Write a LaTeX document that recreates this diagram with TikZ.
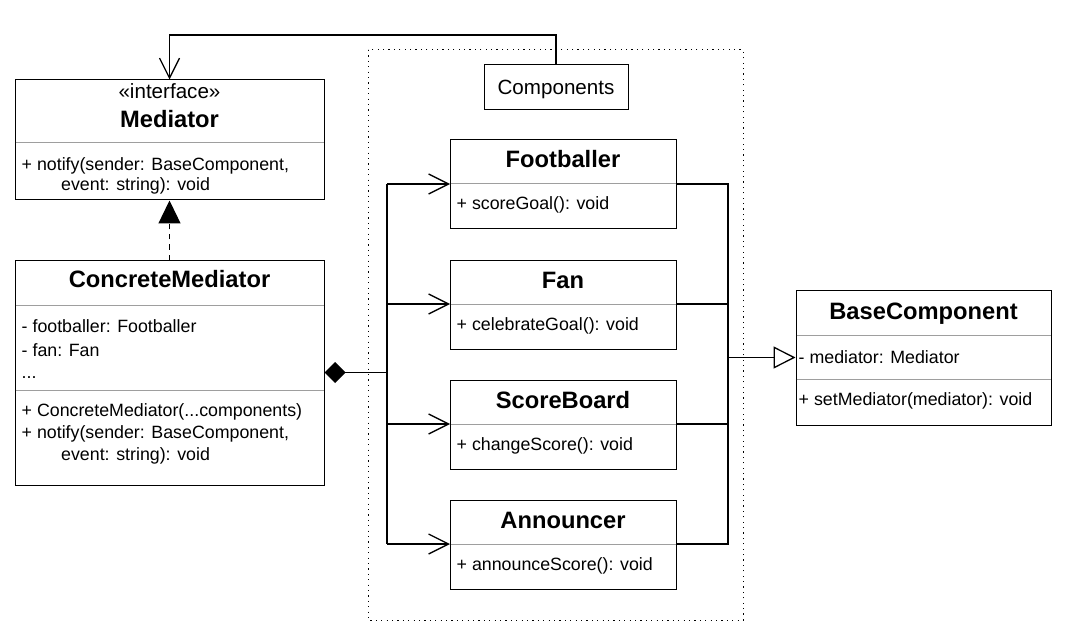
\documentclass[tikz,border=0pt]{standalone}
\usepackage{fontspec}
\setmainfont{Liberation Sans}
\usetikzlibrary{arrows.meta}
\tikzset{
  box/.style={draw, line width=1pt, fill=white, inner sep=0pt},
  sepline/.style={draw=black!38, line width=1pt},
  conn/.style={draw, line width=1.3pt},
  txt/.style={anchor=base west, inner sep=0pt, font=\fontsize{17.8}{20}\selectfont},
  ctxt/.style={anchor=base, inner sep=0pt, font=\fontsize{20.6}{23}\selectfont},
  ttl/.style={anchor=base, inner sep=0pt, font=\bfseries\fontsize{23.7}{26}\selectfont},
  openbarb/.style={-{Straight Barb[length=20pt,width=20pt,line width=1.3pt]}},
  region/.style={draw, line width=1pt, dash pattern=on 1.2pt off 4.2pt},
}
\begin{document}
\begin{tikzpicture}[x=1pt,y=-1pt]
\useasboundingbox (0,0) rectangle (1067,636);
\fill[white] (0,0) rectangle (1067,636);

% dotted region
\draw[region] (368,50) rectangle (743,620);

% boxes
\node[box, minimum width=309pt, minimum height=120pt] (med) at (169.5,140) {};
\node[box, minimum width=309pt, minimum height=225pt] (cm) at (169.5,372.5) {};
\node[box, minimum width=144pt, minimum height=45pt] (comp) at (556,87.5) {};
\node[box, minimum width=226pt, minimum height=89pt] (foot) at (563,184.5) {};
\node[box, minimum width=226pt, minimum height=89pt] (fan) at (563,304.5) {};
\node[box, minimum width=226pt, minimum height=89pt] (sb) at (563,424.5) {};
\node[box, minimum width=226pt, minimum height=89pt] (ann) at (563,544.5) {};
\node[box, minimum width=255pt, minimum height=135pt] (base) at (923.5,357.5) {};

% separators
\draw[sepline] (15.5,143) -- (323.5,143);
\draw[sepline] (15.5,305) -- (323.5,305);
\draw[sepline] (15.5,390.5) -- (323.5,390.5);
\draw[sepline] (450.5,184) -- (675.5,184);
\draw[sepline] (450.5,304) -- (675.5,304);
\draw[sepline] (450.5,424) -- (675.5,424);
\draw[sepline] (450.5,544) -- (675.5,544);
\draw[sepline] (796.5,335) -- (1050.5,335);
\draw[sepline] (796.5,379) -- (1050.5,379);

% texts: Mediator
\node[ctxt] (medst) at (169.5,99) {«interface»};
\node[ttl] (medt) at (169.5,128) {Mediator};
\node[txt] (medm1) at (21.5,170.5) {+ notify(sender: BaseComponent,};
\node[txt] (medm2) at (61,190.5) {event: string): void};

% ConcreteMediator
\node[ttl] (cmt) at (169.5,287.3) {ConcreteMediator};
\node[txt] (cma1) at (21.5,332.7) {- footballer: Footballer};
\node[txt] (cma2) at (21.5,356) {- fan: Fan};
\node[txt] (cma3) at (21.5,378) {...};
\node[txt] (cmm1) at (21.5,416) {+ ConcreteMediator(...components)};
\node[txt] (cmm2) at (21.5,438.5) {+ notify(sender: BaseComponent,};
\node[txt] (cmm3) at (61,460.5) {event: string): void};

% Components label
\node[ctxt] (compt) at (556,95) {Components};

% component classes
\node[ttl] (foott) at (563,168) {Footballer};
\node[txt] (footm) at (456.5,210) {+ scoreGoal(): void};
\node[ttl] (fant) at (563,288) {Fan};
\node[txt] (fanm) at (456.5,330) {+ celebrateGoal(): void};
\node[ttl] (sbt) at (563,408) {ScoreBoard};
\node[txt] (sbm) at (456.5,450) {+ changeScore(): void};
\node[ttl] (annt) at (563,528) {Announcer};
\node[txt] (annm) at (456.5,570) {+ announceScore(): void};

% BaseComponent
\node[ttl] (baset) at (923.5,319.3) {BaseComponent};
\node[txt] (basea) at (798.5,363) {- mediator: Mediator};
\node[txt] (basem) at (798.5,405) {+ setMediator(mediator): void};

% coordinates
\coordinate (topturn) at (556,35);
\coordinate (busl) at (387,372.5);
\coordinate (bl1) at (387,184);
\coordinate (bl2) at (387,304);
\coordinate (bl3) at (387,424);
\coordinate (bl4) at (387,544);
\coordinate (fw) at (450,184);
\coordinate (fanw) at (450,304);
\coordinate (sbw) at (450,424);
\coordinate (annw) at (450,544);
\coordinate (fe) at (676,184);
\coordinate (fane) at (676,304);
\coordinate (sbe) at (676,424);
\coordinate (anne) at (676,544);
\coordinate (br1) at (728,184);
\coordinate (br2) at (728,304);
\coordinate (br3) at (728,424);
\coordinate (br4) at (728,544);
\coordinate (brm) at (728,357.5);

% connectors
\draw[conn, openbarb] (comp.north) -- (topturn) -| (med.north);
\draw[conn, dash pattern=on 5pt off 5pt, -{Triangle[length=23pt,width=22pt]}] (cm.north) -- (med.south);
\draw[conn, {Diamond[length=21pt,width=21pt]}-] (cm.east) -- (busl);
\draw[conn] (bl1) -- (bl4);
\draw[conn, openbarb] (bl1) -- (fw);
\draw[conn, openbarb] (bl2) -- (fanw);
\draw[conn, openbarb] (bl3) -- (sbw);
\draw[conn, openbarb] (bl4) -- (annw);
\draw[conn] (fe) -- (br1) -- (br4) -- (anne);
\draw[conn] (fane) -- (br2);
\draw[conn] (sbe) -- (br3);
\draw[conn, -{Triangle[open,length=22pt,width=22pt,fill=white]}] (brm) -- (base.west);
\end{tikzpicture}
\end{document}
